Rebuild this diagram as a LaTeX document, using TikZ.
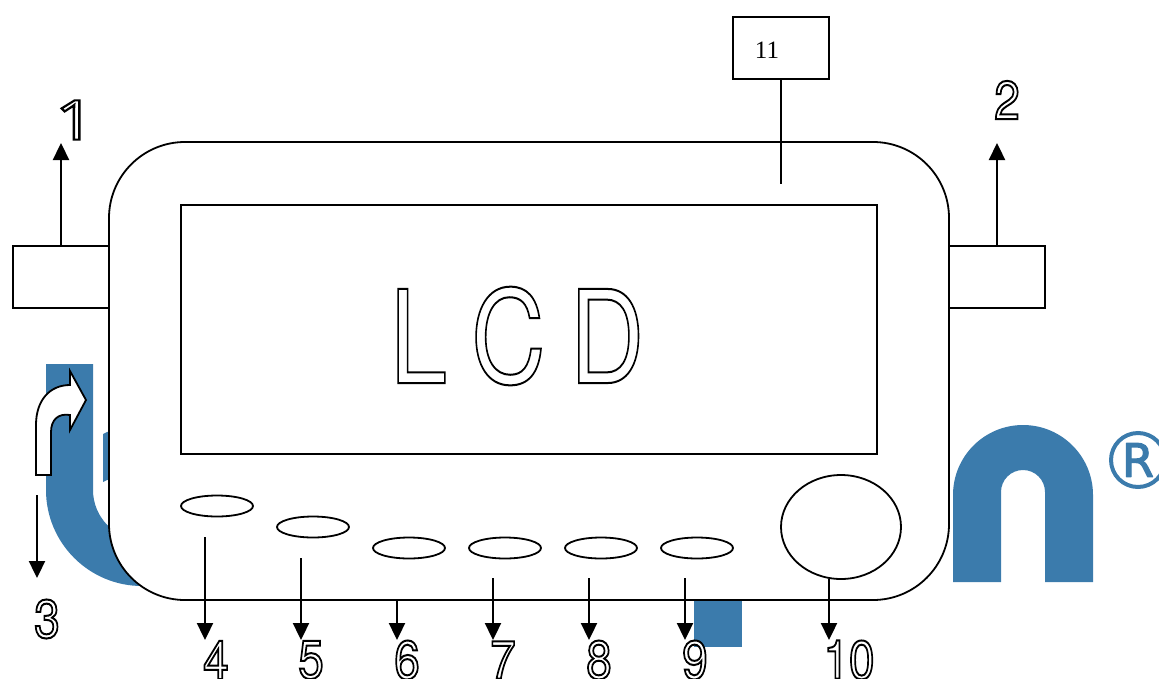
\documentclass[tikz,border=0pt]{standalone}
\usepackage{fontspec}
\usetikzlibrary{arrows.meta,shapes.geometric}
\setmainfont{TeX Gyre Heros}
\newfontfamily\serifnum{Liberation Serif}
\newfontfamily\markfont{DejaVu Sans}
\newfontfamily\onefont{Open Sans}
\definecolor{logoblue}{HTML}{3B7BAC}
\newcommand{\hollow}[1]{\special{pdf:code q 2 Tr 2 w 1 1 1 rg 0 0 0 RG}#1\special{pdf:code Q}}
\newcommand{\heavy}[1]{\special{pdf:code q 2 Tr 1.2 w 1 j 1 J 0.231 0.482 0.675 RG}#1\special{pdf:code Q}}

\begin{document}
\begin{tikzpicture}
            [x=1pt,y=-1pt,line width=1.8pt,
            box/.style={draw,shape=rectangle,inner sep=0,outer sep=0,fill=white},
            knob/.style={draw,shape=ellipse,inner sep=0,outer sep=0,fill=white,minimum width=72pt,minimum height=21pt},
            numlabel/.style={inner sep=0,font=\fontsize{54}{54}\selectfont,xscale=0.85,transform shape},
            lcdlabel/.style={inner sep=0,font=\fontsize{129}{129}\selectfont,xscale=0.8,transform shape},
            pointer/.style={line width=2.3pt,-{Triangle[width=16pt,length=17pt]}}]

            \useasboundingbox (0,0) rectangle (1159,678);
            \clip (0,0) rectangle (1159,678);

            % logo behind the device
            \fill [logoblue] (46,364) -- (93,364) -- (93,490) arc (180:90:50) -- (190,540) -- (190,586) -- (142,586) arc (90:180:96) -- cycle;
            \fill [logoblue] (103,434) -- (120,426) -- (120,474) -- (103,482) -- cycle;
            \fill [logoblue] (694,590) rectangle (742,647);
            \fill [logoblue] (953,582) -- (953,495) arc (180:360:70) -- (1093,582) -- (1045,582) -- (1045,492) arc (0:-180:22) -- (1001,582) -- cycle;
            \node (regmark) at (1138,460) [draw=logoblue,shape=circle,line width=4pt,inner sep=0,minimum size=54pt,text=logoblue,font=\markfont\fontsize{46}{46}\selectfont] {\heavy{R}};

            \node (tabL) at (61,277) [box,minimum width=96pt,minimum height=62pt] {};
            \node (tabR) at (997,277) [box,minimum width=96pt,minimum height=62pt] {};
            \node (body) at (529,371) [box,rounded corners=76pt,minimum width=840pt,minimum height=458pt] {};
            \node (screen) at (529,329.5) [box,minimum width=696pt,minimum height=249pt] {};
            \node (box11) at (781,48) [box,minimum width=96pt,minimum height=62pt] {};
            \node (txt11) at (767,50) [inner sep=0,font=\serifnum\fontsize{25}{25}\selectfont] {11};
            \node (lcd) at (517,336) [lcdlabel] {\hollow{L\hspace{30pt}C\hspace{30pt}D}};

            \node (key4) at (217,506) [knob] {};
            \node (key5) at (313,527) [knob] {};
            \node (key6) at (409,548) [knob] {};
            \node (key7) at (505,548) [knob] {};
            \node (key8) at (601,548) [knob] {};
            \node (key9) at (697,548) [knob] {};
            \node (dial) at (841,527) [draw,shape=ellipse,inner sep=0,outer sep=0,fill=white,minimum width=120pt,minimum height=104pt] {};

            \draw [fill=white,line join=miter] (36,475) -- (36,425) .. controls (36,400) and (50,385) .. (70,385) -- (70,371) -- (86,400) -- (70,430) -- (70,415) .. controls (58,413) and (51,420) .. (51,432) -- (51,475) -- cycle;

            \coordinate (e1) at (61,143);
            \coordinate (e2) at (997,143);
            \coordinate (s3) at (37,495);
            \coordinate (e3) at (37,578);
            \coordinate (s4) at (205,537);
            \coordinate (e4) at (205,640);
            \coordinate (s5) at (301,558);
            \coordinate (e5) at (301,640);
            \coordinate (s6) at (397,600);
            \coordinate (e6) at (397,640);
            \coordinate (s7) at (493,578);
            \coordinate (e7) at (493,640);
            \coordinate (s8) at (589,578);
            \coordinate (e8) at (589,640);
            \coordinate (s9) at (685,578);
            \coordinate (e9) at (685,640);
            \coordinate (s10) at (829,579);
            \coordinate (e10) at (829,640);
            \coordinate (e11) at (781,184);

            \draw (box11) -- (e11);
            \draw [pointer] (tabL) -- (e1);
            \draw [pointer] (tabR) -- (e2);
            \draw [pointer] (s3) -- (e3);
            \draw [pointer] (s4) -- (e4);
            \draw [pointer] (s5) -- (e5);
            \draw [pointer] (s6) -- (e6);
            \draw [pointer] (s7) -- (e7);
            \draw [pointer] (s8) -- (e8);
            \draw [pointer] (s9) -- (e9);
            \draw [pointer] (s10) -- (e10);

            \node (n1) at (75,120) [inner sep=0,font=\onefont\fontsize{55}{55}\selectfont,xscale=1.25,transform shape] {\hollow{1}};
            \node (n2) at (1007,100) [numlabel] {\hollow{2}};
            \node (n3) at (47,619) [numlabel] {\hollow{3}};
            \node (n4) at (216,660) [numlabel] {\hollow{4}};
            \node (n5) at (311,660) [numlabel] {\hollow{5}};
            \node (n6) at (407,660) [numlabel] {\hollow{6}};
            \node (n7) at (503,660) [numlabel] {\hollow{7}};
            \node (n8) at (599,660) [numlabel] {\hollow{8}};
            \node (n9) at (695,660) [numlabel] {\hollow{9}};
            \node (n10) at (849,660) [numlabel] {\hollow{10}};
          \end{tikzpicture}
\end{document}
